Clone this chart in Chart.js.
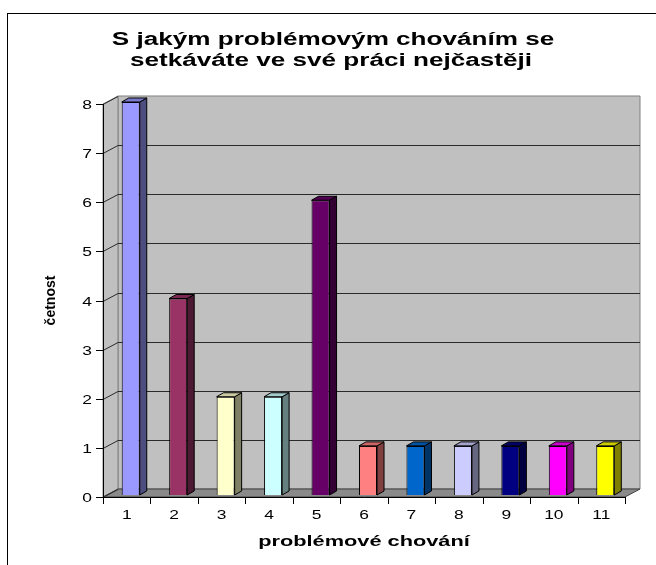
<!DOCTYPE html>
<html>
<head>
<meta charset="utf-8">
<script src="https://cdn.jsdelivr.net/npm/chart.js@4/dist/chart.umd.min.js"></script>
<style>
  html, body { margin: 0; padding: 0; background: #ffffff; }
  canvas { display: block; }
</style>
</head>
<body>
<canvas id="c" width="656" height="565"></canvas>
<script>
// Survey answers: how often each kind of problem behaviour was named
const categories = ['1', '2', '3', '4', '5', '6', '7', '8', '9', '10', '11'];
const counts = [8, 4, 2, 2, 6, 1, 1, 1, 1, 1, 1];
const barColors = ['#9999FF', '#993366', '#FFFFCC', '#CCFFFF', '#660066', '#FF8080',
                   '#0066CC', '#CCCCFF', '#000080', '#FF00FF', '#FFFF00'];
const yTicks = [0, 1, 2, 3, 4, 5, 6, 7, 8];
const titleLines = ['S jakým problémovým chováním se', 'setkáváte ve své práci nejčastěji'];
const xTitle = 'problémové chování';
const yTitle = 'četnost';

// 3D look: wall depth and bar depth (pixels)
const WALL_DX = 15, WALL_DY = -8;
const BAR_DX = 7, BAR_DY = -4;
const BAR_SHIFT_X = (WALL_DX - BAR_DX) / 2, BAR_SHIFT_Y = (WALL_DY - BAR_DY) / 2;
const TEXT_SX = 1.45;
const FONT = '"Liberation Sans", Arial, sans-serif';

function shade(hex, f) {
  const n = parseInt(hex.slice(1), 16);
  const r = Math.round(((n >> 16) & 255) * f);
  const g = Math.round(((n >> 8) & 255) * f);
  const b = Math.round((n & 255) * f);
  return `rgb(${r},${g},${b})`;
}

function wideText(ctx, text, x, y, font, align, baseline) {
  ctx.save();
  ctx.font = font;
  ctx.textAlign = align;
  ctx.textBaseline = baseline;
  ctx.fillStyle = '#000000';
  ctx.translate(x, y);
  ctx.scale(TEXT_SX, 1);
  ctx.fillText(text, 0, 0);
  ctx.restore();
}

function poly(ctx, pts, fill, stroke) {
  ctx.beginPath();
  ctx.moveTo(pts[0][0], pts[0][1]);
  for (let i = 1; i < pts.length; i++) ctx.lineTo(pts[i][0], pts[i][1]);
  ctx.closePath();
  if (fill) { ctx.fillStyle = fill; ctx.fill(); }
  if (stroke) { ctx.strokeStyle = stroke; ctx.lineWidth = 1; ctx.stroke(); }
}

// Walls, floor, back gridlines, axes and all text
const scenePlugin = {
  id: 'scene',
  beforeDatasetsDraw(chart) {
    const ctx = chart.ctx;
    const a = chart.chartArea;
    const ys = chart.scales.y, xs = chart.scales.x;
    const L = a.left, R = a.right, T = a.top, B = a.bottom;

    ctx.save();
    // outer frame
    ctx.strokeStyle = '#000000';
    ctx.lineWidth = 1;
    ctx.strokeRect(7.5, 13.5, 700, 700);

    // back wall
    poly(ctx, [[L + WALL_DX, T + WALL_DY], [R + WALL_DX, T + WALL_DY], [R + WALL_DX, B + WALL_DY], [L + WALL_DX, B + WALL_DY]], '#C0C0C0', '#808080');
    // side wall
    poly(ctx, [[L, T], [L + WALL_DX, T + WALL_DY], [L + WALL_DX, B + WALL_DY], [L, B]], '#C0C0C0', '#808080');
    // floor
    poly(ctx, [[L, B], [L + WALL_DX, B + WALL_DY], [R + WALL_DX, B + WALL_DY], [R, B]], '#8A8A8A', '#404040');

    // gridlines on back wall and side wall
    ctx.strokeStyle = '#2a2a2a';
    ctx.lineWidth = 1;
    yTicks.forEach(v => {
      const y = Math.round(ys.getPixelForValue(v)) + 0.5;
      ctx.beginPath();
      ctx.moveTo(L, y);
      ctx.lineTo(L + WALL_DX, y + WALL_DY);
      if (v > 0 && v < 8) ctx.lineTo(R + WALL_DX, y + WALL_DY);
      ctx.stroke();
    });

    // front axes
    ctx.strokeStyle = '#000000';
    ctx.beginPath();
    ctx.moveTo(L + 0.5, T);
    ctx.lineTo(L + 0.5, B + 0.5);
    ctx.lineTo(R, B + 0.5);
    ctx.stroke();

    // y ticks and labels
    yTicks.forEach(v => {
      const y = Math.round(ys.getPixelForValue(v)) + 0.5;
      ctx.beginPath();
      ctx.moveTo(L - 7, y);
      ctx.lineTo(L, y);
      ctx.stroke();
      wideText(ctx, String(v), L - 11, y + 1, `12px ${FONT}`, 'right', 'middle');
    });

    // x ticks at category boundaries and labels
    const step = (R - L) / categories.length;
    for (let i = 0; i <= categories.length; i++) {
      const x = Math.round(L + i * step) + 0.5;
      ctx.beginPath();
      ctx.moveTo(x, B);
      ctx.lineTo(x, B + 7);
      ctx.stroke();
    }
    categories.forEach((c, i) => {
      wideText(ctx, c, xs.getPixelForValue(i), B + 19, `12px ${FONT}`, 'center', 'middle');
    });

    // titles
    wideText(ctx, titleLines[0], 333, 45, `bold 18px ${FONT}`, 'center', 'alphabetic');
    wideText(ctx, titleLines[1], 331, 66, `bold 18px ${FONT}`, 'center', 'alphabetic');
    wideText(ctx, xTitle, (L + R) / 2, 546, `bold 15px ${FONT}`, 'center', 'alphabetic');

    ctx.save();
    ctx.translate(51, (T + B) / 2);
    ctx.rotate(-Math.PI / 2);
    ctx.font = `bold 14px ${FONT}`;
    ctx.textAlign = 'center';
    ctx.textBaseline = 'middle';
    ctx.fillStyle = '#000000';
    ctx.fillText(yTitle, 0, 0);
    ctx.restore();

    ctx.restore();
  },
  beforeDatasetDraw(chart) {
    chart.ctx.save();
    chart.ctx.translate(BAR_SHIFT_X, BAR_SHIFT_Y);
  },
  afterDatasetDraw(chart, args) {
    const ctx = chart.ctx;
    const meta = args.meta;
    meta.data.forEach((el, i) => {
      const p = el.getProps(['x', 'y', 'base', 'width'], true);
      const l = p.x - p.width / 2, r = p.x + p.width / 2;
      const col = barColors[i];
      // right side face
      poly(ctx, [[r, p.y], [r + BAR_DX, p.y + BAR_DY], [r + BAR_DX, p.base + BAR_DY], [r, p.base]], shade(col, 0.5), '#000000');
      // top face
      poly(ctx, [[l, p.y], [l + BAR_DX, p.y + BAR_DY], [r + BAR_DX, p.y + BAR_DY], [r, p.y]], shade(col, 0.8), '#000000');
    });
    ctx.restore();
  }
};

new Chart(document.getElementById('c'), {
  type: 'bar',
  data: {
    labels: categories,
    datasets: [{
      data: counts,
      backgroundColor: barColors,
      borderColor: '#000000',
      borderWidth: 1,
      barPercentage: 0.38,
      categoryPercentage: 1
    }]
  },
  options: {
    responsive: false,
    devicePixelRatio: 1,
    animation: false,
    layout: { padding: { left: 103, right: 31, top: 104, bottom: 68 } },
    plugins: { legend: { display: false }, tooltip: { enabled: false }, title: { display: false } },
    scales: {
      x: { display: false, offset: true },
      y: { display: false, min: 0, max: 8, ticks: { stepSize: 1 } }
    }
  },
  plugins: [scenePlugin]
});
</script>
</body>
</html>
